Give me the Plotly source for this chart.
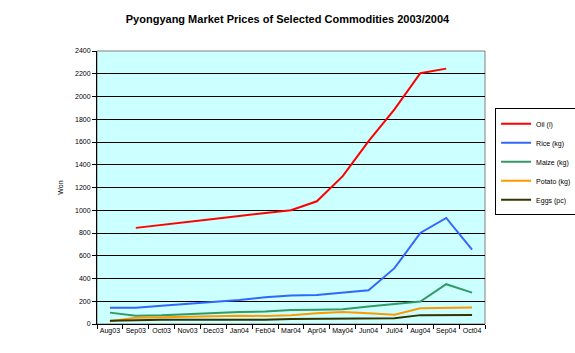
import plotly.graph_objects as go

months = ["Aug03", "Sep03", "Oct03", "Nov03", "Dec03", "Jan04", "Feb04", "Mar04",
          "Apr04", "May04", "Jun04", "Jul04", "Aug04", "Sep04", "Oct04"]
oil = [None, 845, 873, 897, 923, 950, 975, 1000, 1079, 1300, 1608, 1887, 2205, 2245, None]
rice = [142, 142, 160, 176, 191, 212, 235, 250, 256, 279, 297, 491, 800, 932, 653]
maize = [100, 72, 76, 88, 94, 106, 109, 123, 126, 129, 153, 176, 197, 350, 276]
potato = [25, 56, 59, 65, 65, 72, 71, 76, 94, 106, 94, 82, 138, 144, 144]
eggs = [28, 35, 38, 38, 38, 38, 38, 45, 47, 47, 47, 50, 78, 80, 80]

series = [
    ("Oil (l)", oil, "#FF0000"),
    ("Rice (kg)", rice, "#3366FF"),
    ("Maize (kg)", maize, "#339966"),
    ("Potato (kg)", potato, "#FF9900"),
    ("Eggs (pc)", eggs, "#333300"),
]

fig = go.Figure()
for name, vals, col in series:
    fig.add_trace(go.Scatter(x=months, y=vals, name=name, mode="lines",
                             line=dict(color=col, width=2), connectgaps=False))

font = "Liberation Sans, Arial, sans-serif"
fig.update_layout(
    width=575, height=353,
    margin=dict(l=97, r=90, t=51, b=29, autoexpand=False),
    paper_bgcolor="white", plot_bgcolor="#CCFFFF",
    title=dict(text="<b>Pyongyang Market Prices of Selected Commodities 2003/2004</b>",
               x=0.5, xanchor="center", y=0.947, yanchor="middle",
               font=dict(family=font, size=11, color="black")),
    font=dict(family=font, size=7, color="black"),
    showlegend=True,
    legend=dict(x=1.026, xanchor="left", y=0.79, yanchor="top",
                bordercolor="black", borderwidth=1, bgcolor="white",
                font=dict(family=font, size=7), tracegroupgap=0, itemwidth=30),
    xaxis=dict(type="category", tickson="boundaries", ticks="outside", ticklen=4,
               tickcolor="black", showline=True, linecolor="black", linewidth=1,
               showgrid=False, tickfont=dict(size=7), tickangle=0, range=[-0.5, 14.5],
               automargin=False),
    yaxis=dict(range=[0, 2400], dtick=200, ticks="outside", ticklen=4, tickcolor="black",
               showline=True, linecolor="black", linewidth=1,
               showgrid=True, gridcolor="black", gridwidth=1,
               tickfont=dict(size=7), zeroline=False, automargin=False,
               title=dict(text="Won", font=dict(size=7), standoff=10)),
)
fig.add_shape(type="rect", xref="paper", yref="paper", x0=0, y0=0, x1=1, y1=1,
              line=dict(color="#808080", width=1), layer="below")
fig.write_html("out.html")
